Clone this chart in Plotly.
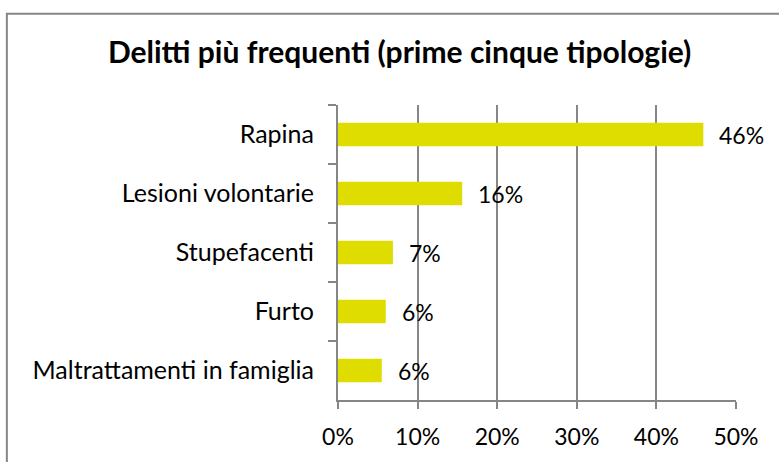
import plotly.graph_objects as go

categories = ["Rapina", "Lesioni volontarie", "Stupefacenti", "Furto", "Maltrattamenti in famiglia"]
values = [45.9, 15.6, 6.9, 6.0, 5.5]
x_ticks = [0, 10, 20, 30, 40, 50]
x_tick_labels = ["0%", "10%", "20%", "30%", "40%", "50%"]

FONT = "Lato, Calibri, sans-serif"
GREY = "#868686"

fig = go.Figure()
fig.add_trace(go.Bar(
    x=values, y=categories, orientation="h",
    marker=dict(color="#DFDD00", line=dict(width=0)),
    hoverinfo="x+y",
))

for c, v in zip(categories, values):
    fig.add_annotation(x=v, y=c, text=f"{round(v)}%", showarrow=False,
                       xanchor="left", xshift=14,
                       font=dict(family=FONT, size=23, color="#000000"))

# outer chart border (right and bottom edges fall outside the image)
fig.add_shape(type="rect", xref="paper", yref="paper",
              x0=-0.832, x1=1.25, y0=-0.4, y1=1.309,
              line=dict(color=GREY, width=2), fillcolor="rgba(0,0,0,0)")

fig.update_layout(
    width=779, height=462,
    margin=dict(l=338, r=43, t=105, b=59),
    paper_bgcolor="white", plot_bgcolor="white",
    bargap=0.6,
    showlegend=False,
    title=dict(text="<b>Delitti più frequenti (prime cinque tipologie)</b>",
               x=0.513, xanchor="center", y=0.887, yanchor="middle",
               font=dict(family=FONT, size=30, color="#000000")),
    font=dict(family=FONT, size=23, color="#000000"),
)
fig.update_xaxes(range=[0, 50], tickvals=x_ticks, ticktext=x_tick_labels,
                 showgrid=True, gridcolor=GREY, gridwidth=2,
                 showline=True, linecolor=GREY, linewidth=2,
                 ticks="outside", ticklen=7, tickwidth=2, tickcolor=GREY,
                 ticklabelstandoff=8, zeroline=False, fixedrange=True)
fig.update_yaxes(autorange="reversed", showgrid=False,
                 showline=True, linecolor=GREY, linewidth=2,
                 ticks="outside", ticklen=8, tickwidth=2, tickcolor=GREY,
                 tickfont=dict(size=25),
                 tickson="boundaries", ticklabelstandoff=17, fixedrange=True)

fig.write_html("out.html", config={"displayModeBar": False},
               post_script="document.body.style.margin='0';")
